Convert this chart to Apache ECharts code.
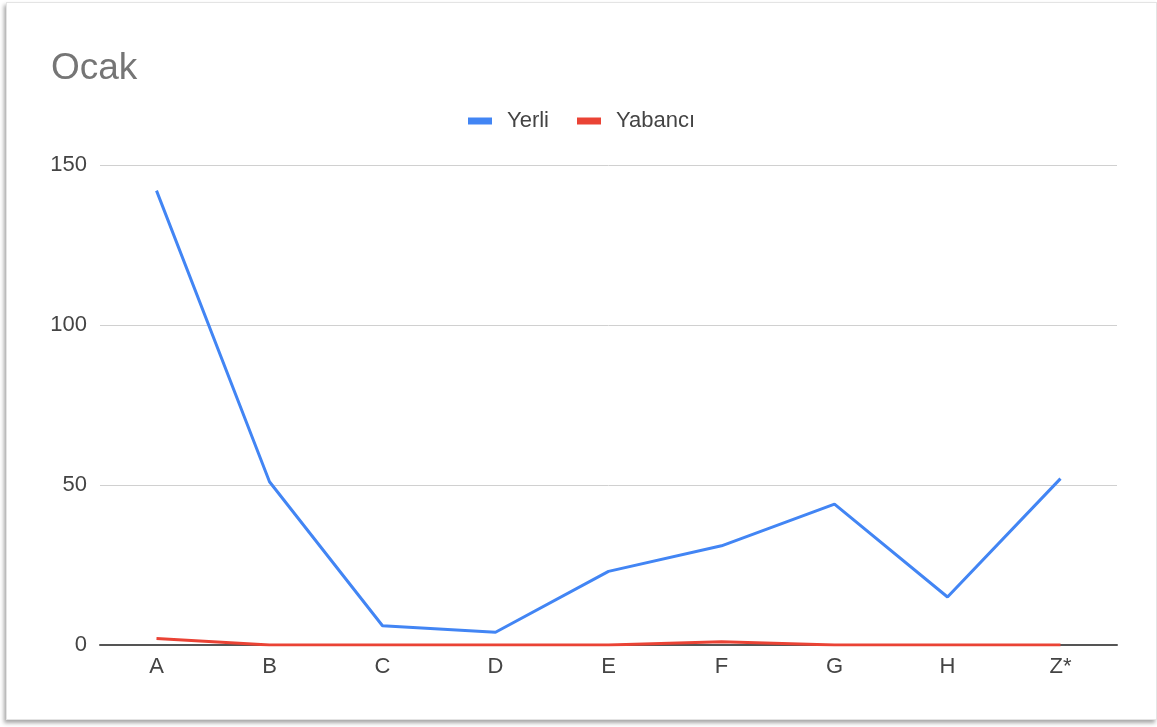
<!DOCTYPE html>
<html>
<head>
<meta charset="utf-8">
<script src="https://cdn.jsdelivr.net/npm/echarts@6/dist/echarts.min.js"></script>
<style>
  html, body { margin: 0; padding: 0; background: #ffffff; }
  #frame {
    position: absolute; left: 6px; top: 2px; width: 1149px; height: 716px;
    border: 1px solid #e4e4e4; box-shadow: -2px 3px 4px rgba(0,0,0,0.35);
    background: #fff;
  }
  #chart { position: absolute; left: 0; top: 0; width: 1157px; height: 727px; }
</style>
</head>
<body>
<div id="frame"></div>
<div id="chart"></div>
<script>
// veriler
const categories = ["A", "B", "C", "D", "E", "F", "G", "H", "Z*"];
const yerli = [142, 51, 6, 4, 23, 31, 44, 15, 52];
const yabanci = [2, 0, 0, 0, 0, 1, 0, 0, 0];
const yTicks = [0, 50, 100, 150];

const chart = echarts.init(document.getElementById("chart"));

const labelFont = { fontFamily: "Arial, 'Liberation Sans', sans-serif", fontSize: 22, color: "#444" };

chart.setOption({
  backgroundColor: "transparent",
  animation: false,
  title: {
    text: "Ocak",
    left: 46,
    top: 45,
    textStyle: { fontFamily: "Arial, 'Liberation Sans', sans-serif", fontSize: 37, fontWeight: "normal", color: "#757575" },
  },
  legend: {
    left: 463,
    top: 105,
    itemWidth: 24,
    itemHeight: 7,
    itemGap: 28,
    icon: "rect",
    textStyle: Object.assign({}, labelFont, { color: "#444", padding: [0, 0, 0, 10] }),
    data: ["Yerli", "Yabancı"],
  },
  grid: { left: 100, right: 40, top: 165, bottom: 82, containLabel: false },
  xAxis: {
    type: "category",
    data: categories,
    boundaryGap: true,
    axisTick: { show: false },
    axisLine: { lineStyle: { color: "#555", width: 2 } },
    axisLabel: Object.assign({}, labelFont, { margin: 11 }),
  },
  yAxis: {
    type: "value",
    min: yTicks[0],
    max: yTicks[yTicks.length - 1],
    interval: 50,
    axisLine: { show: false },
    axisTick: { show: false },
    splitLine: { lineStyle: { color: "#d0d0d0", width: 1 } },
    axisLabel: Object.assign({}, labelFont, { margin: 13 }),
  },
  series: [
    {
      name: "Yerli",
      type: "line",
      data: yerli,
      symbol: "none",
      color: "#4285F4",
      lineStyle: { width: 3, color: "#4285F4" },
    },
    {
      name: "Yabancı",
      type: "line",
      data: yabanci,
      symbol: "none",
      color: "#EA4335",
      lineStyle: { width: 3, color: "#EA4335" },
    },
  ],
});
</script>
</body>
</html>
